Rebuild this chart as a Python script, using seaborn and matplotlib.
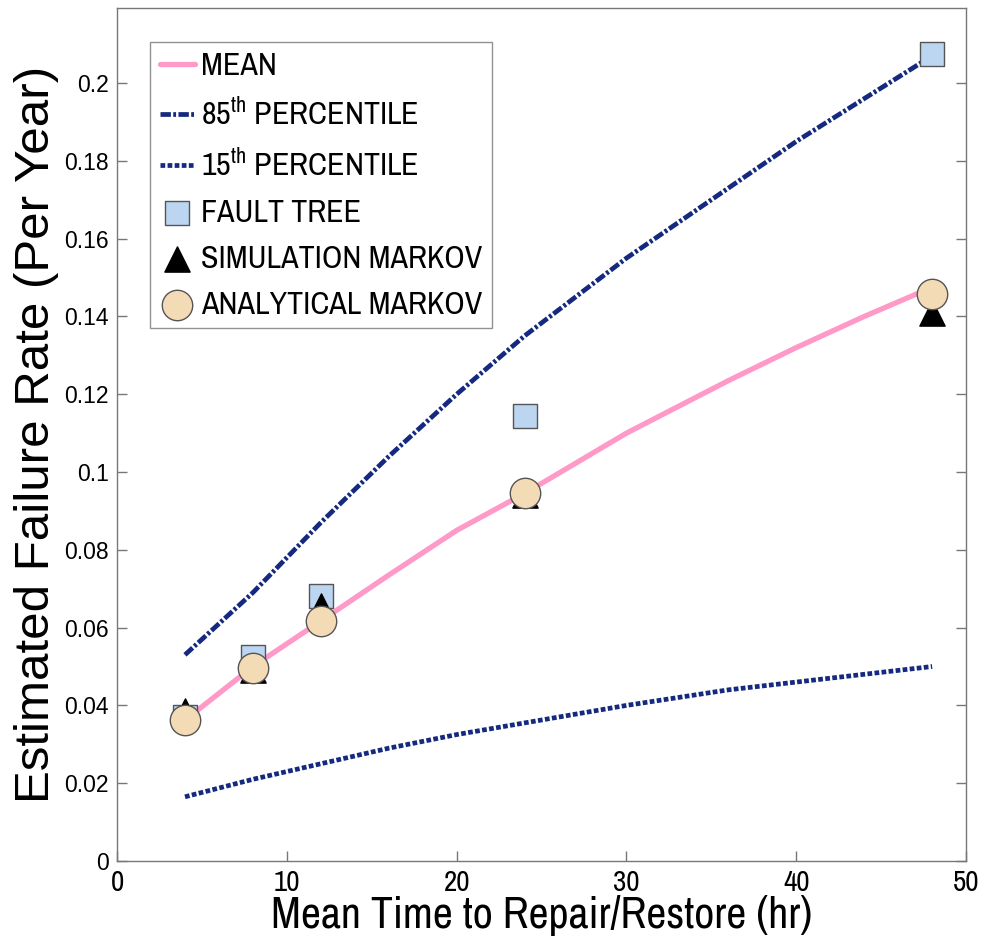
import numpy as np
import pandas as pd
import matplotlib
matplotlib.use("Agg")
import matplotlib.pyplot as plt
import seaborn as sns

sns.set_style("ticks")
narrow = ["Archivo Narrow", "PT Sans Narrow", "Roboto Condensed", "Liberation Sans Narrow",
          "Liberation Sans", "DejaVu Sans"]
plt.rcParams["font.family"] = narrow
plt.rcParams["mathtext.fontset"] = "custom"
plt.rcParams["mathtext.rm"] = "Archivo Narrow"
plt.rcParams["text.color"] = "black"
plt.rcParams["axes.labelcolor"] = "black"
plt.rcParams["xtick.labelcolor"] = "black"
plt.rcParams["ytick.labelcolor"] = "black"

# curves
mttr_curve = [4, 8, 12, 16, 20, 24, 30, 36, 40, 44, 48]
mean_rate = [0.0362, 0.0500, 0.0617, 0.0735, 0.0850, 0.0945, 0.1100, 0.1235, 0.1320, 0.1400, 0.1475]
p85_rate = [0.0530, 0.0690, 0.0870, 0.1040, 0.1200, 0.1350, 0.1550, 0.1730, 0.1850, 0.1960, 0.2070]
p15_rate = [0.0165, 0.0210, 0.0250, 0.0290, 0.0325, 0.0355, 0.0400, 0.0440, 0.0460, 0.0480, 0.0500]

# point estimates
mttr_pts = [4, 8, 12, 24, 48]
fault_tree = [0.0370, 0.0525, 0.0680, 0.1145, 0.2075]
sim_markov = [0.0385, 0.0490, 0.0655, 0.0940, 0.1410]
ana_markov = [0.0362, 0.0495, 0.0617, 0.0945, 0.1458]

curves = pd.DataFrame({"mttr": mttr_curve, "mean": mean_rate, "p85": p85_rate, "p15": p15_rate})
pts = pd.DataFrame({"mttr": mttr_pts, "ft": fault_tree, "sim": sim_markov, "ana": ana_markov})

fig = plt.figure(figsize=(9.97, 9.52), dpi=100)
ax = fig.add_axes([0.1174, 0.0956, 0.8516, 0.896])

navy = "#14297f"
sns.lineplot(data=curves, x="mttr", y="mean", ax=ax, color="#ff99c8", lw=3.8,
             label="MEAN")
sns.lineplot(data=curves, x="mttr", y="p85", ax=ax, color=navy, lw=3.4,
             label=r"85$^{\mathrm{th}}$ PERCENTILE")
ax.lines[-1].set_dashes([2.2, 0.5, 0.6, 0.5])
sns.lineplot(data=curves, x="mttr", y="p15", ax=ax, color=navy, lw=3.4,
             label=r"15$^{\mathrm{th}}$ PERCENTILE")
ax.lines[-1].set_dashes([1.0, 0.5])

sns.scatterplot(data=pts, x="mttr", y="ft", ax=ax, marker="s", s=300,
                color="#bcd6f2", edgecolor="#555555", linewidth=1.0, label="FAULT TREE", zorder=3)
sns.scatterplot(data=pts, x="mttr", y="sim", ax=ax, marker="^", s=330,
                color="black", edgecolor="black", linewidth=1.0, label="SIMULATION MARKOV", zorder=4)
sns.scatterplot(data=pts, x="mttr", y="ana", ax=ax, marker="o", s=480,
                color="#f3dbb6", edgecolor="#555555", linewidth=1.0, label="ANALYTICAL MARKOV", zorder=5)

ax.set_xlim(0, 50)
ax.set_ylim(0, 0.2193)
ax.set_xticks([0, 10, 20, 30, 40, 50])
ax.set_yticks([0, 0.02, 0.04, 0.06, 0.08, 0.1, 0.12, 0.14, 0.16, 0.18, 0.2])
ax.set_yticklabels(["0", "0.02", "0.04", "0.06", "0.08", "0.1", "0.12", "0.14", "0.16", "0.18", "0.2"],
                   family=["Liberation Sans", "DejaVu Sans"], fontsize=16.5)
ax.set_xticklabels(["0", "10", "20", "30", "40", "50"], fontsize=21)
ax.tick_params(direction="in", length=7, width=1, color="#777777",
               right=True, top=False, pad=6)
for sp in ax.spines.values():
    sp.set_visible(True)
    sp.set_color("#777777")
    sp.set_linewidth(1.0)

ax.set_xlabel("Mean Time to Repair/Restore (hr)", fontsize=31.5, labelpad=-1)
ax.set_ylabel("Estimated Failure Rate (Per Year)", fontsize=35.5, labelpad=4,
              family=["Liberation Sans", "DejaVu Sans"])

leg = ax.legend(loc="upper left", bbox_to_anchor=(0.039, 0.96), fontsize=23,
                frameon=True, fancybox=False, edgecolor="#777777", handlelength=1.1,
                handletextpad=0.2, labelspacing=0.56, borderpad=0.3, borderaxespad=0)
leg.get_frame().set_linewidth(1.0)

fig.savefig("out.png", dpi=100)
